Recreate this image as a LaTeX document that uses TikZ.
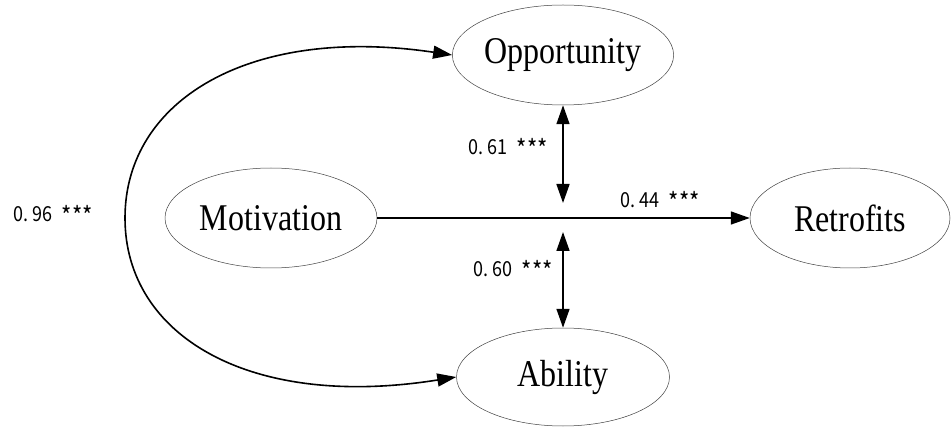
\documentclass[tikz,border=0pt]{standalone}
\usepackage{fontspec}
\setmainfont{Liberation Serif}
\newfontfamily\lblfont{Noto Sans CJK SC}
\usetikzlibrary{shapes.geometric,arrows.meta}
\newcommand{\stars}{\raisebox{-3pt}{\fontsize{22}{22}\selectfont ***}}
\newcommand{\lbltext}[2]{\scalebox{1}[1.15]{#1.\hspace{4.5pt}#2\hspace{9pt}\stars}}
\newcommand{\nametext}[1]{\scalebox{1}[1.18]{#1}}
\begin{document}
\begin{tikzpicture}[x=1pt,y=-1pt,
  latent/.style={draw=black!75,line width=0.5pt,ellipse,inner sep=0pt,font=\fontsize{32}{32}\selectfont},
  path/.style={line width=1.6pt,-{Triangle[length=19pt,width=13pt]}},
  dpath/.style={line width=1.6pt,{Triangle[length=19pt,width=13pt]}-{Triangle[length=19pt,width=13pt]}},
  coef/.style={font=\lblfont\fontsize{18}{18}\selectfont,inner sep=0pt}]
\useasboundingbox (0,0) rectangle (952,427);
\node[latent,minimum width=212pt,minimum height=100pt] (opp) at (563,55) {\nametext{Opportunity}};
\node[latent,minimum width=212pt,minimum height=100pt] (mot) at (271,218) {\nametext{Motivation}};
\node[latent,minimum width=200pt,minimum height=100pt] (ret) at (850,218) {\nametext{Retrofits}};
\node[latent,minimum width=213pt,minimum height=98pt] (abil) at (563,377) {\nametext{Ability}};
\coordinate (oend) at (563,203);
\coordinate (aend) at (563,232);
\coordinate (L) at (125,218);
\draw[path] (mot.east) -- (ret.west);
\draw[dpath] (opp.south) -- (oend);
\draw[dpath] (aend) -- (abil.north);
\draw[dpath] (opp.west) .. controls (250,25) and (125,100) .. (L)
  .. controls (125,336) and (250,410) .. (abil.west);
\node[coef] (c1) at (508,148) {\lbltext{0}{61}};
\node[coef] (c2) at (513,270) {\lbltext{0}{60}};
\node[coef] (c3) at (660,201) {\lbltext{0}{44}};
\node[coef] (c4) at (53,215) {\lbltext{0}{96}};
\end{tikzpicture}
\end{document}
